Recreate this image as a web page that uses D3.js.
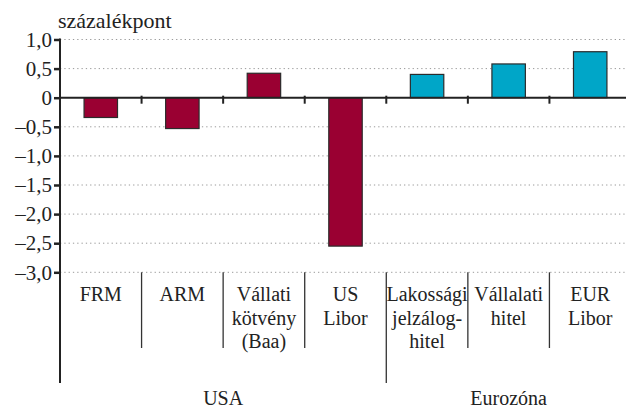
<!DOCTYPE html>
<html>
<head>
    <meta charset="UTF-8">
    <script src="https://cdn.jsdelivr.net/npm/d3@7"></script>
    <style>
        svg text { font-family: "Liberation Serif", serif !important; }
    </style>
</head>
<body style="margin:0">
<div id="chart"></div>
<script>
// categories, their label lines and group index
const categories = ["FRM", "ARM", "Vállati kötvény (Baa)", "US Libor", "Lakossági jelzáloghitel", "Vállalati hitel", "EUR Libor"];
const labelLines = [["FRM"], ["ARM"], ["Vállati", "kötvény", "(Baa)"], ["US", "Libor"], ["Lakossági", "jelzálog-", "hitel"], ["Vállalati", "hitel"], ["EUR", "Libor"]];
const values = [-0.34, -0.53, 0.42, -2.55, 0.40, 0.58, 0.79];
const groupOf = [0, 0, 0, 0, 1, 1, 1];
const groupNames = ["USA", "Eurozóna"];
const groupColors = ["#9a0032", "#00a6c8"];
const yTicks = [1, 0.5, 0, -0.5, -1, -1.5, -2, -2.5, -3];

const width = 626, height = 408;
const left = 60, right = 631;   // last band runs a bit past the edge
const FONT = "serif";

const svg = d3.select("#chart").append("svg")
    .attr("width", width)
    .attr("height", height)
    .attr("font-family", FONT)
    .style("display", "block");

const x = d3.scaleBand()
    .domain(categories)
    .range([left, right])
    .padding(0);

const y = d3.scaleLinear()
    .domain([-3, 1])
    .range([272.3, 39.5]);

const y0 = y(0);
const axisBottom = y(-3);

// dotted grid lines
svg.append("g")
    .selectAll("line")
    .data(yTicks.filter(d => d !== 0))
    .enter()
    .append("line")
    .attr("x1", left)
    .attr("x2", width)
    .attr("y1", d => y(d))
    .attr("y2", d => y(d))
    .attr("stroke", "#9a9a9a")
    .attr("stroke-width", 1)
    .attr("stroke-dasharray", "1.3,3");

// bars
const barW = x.bandwidth() * 0.41;
svg.append("g")
    .selectAll("rect")
    .data(values)
    .enter()
    .append("rect")
    .attr("x", (d, i) => x(categories[i]) + (x.bandwidth() - barW) / 2)
    .attr("y", d => y(Math.max(0, d)))
    .attr("width", barW)
    .attr("height", d => Math.abs(y(d) - y0))
    .attr("fill", (d, i) => groupColors[groupOf[i]])
    .attr("stroke", "#2b2b2b")
    .attr("stroke-width", 1.2);

// y axis
const yAxis = d3.axisLeft(y)
    .tickValues(yTicks)
    .tickSize(6)
    .tickPadding(2)
    .tickFormat(d => d === 0 ? "0" : d3.format(".1f")(d).replace(".", ",").replace("-", "–").replace("−", "–"));

const yg = svg.append("g")
    .attr("transform", `translate(${left},0)`)
    .call(yAxis)
    .attr("font-family", FONT)
    .attr("font-size", 21);
yg.select(".domain").remove();
yg.selectAll(".tick line").attr("stroke", "#222").attr("stroke-width", 2.5);
yg.selectAll(".tick text")
    .attr("fill", "#222")
    .attr("font-family", FONT)
    .attr("font-size", 21);

// vertical axis line, running down to the group row
svg.append("line")
    .attr("x1", left).attr("x2", left)
    .attr("y1", y(1) - 1).attr("y2", 383)
    .attr("stroke", "#222")
    .attr("stroke-width", 2);

// zero line
svg.append("line")
    .attr("x1", left).attr("x2", width)
    .attr("y1", y0).attr("y2", y0)
    .attr("stroke", "#222")
    .attr("stroke-width", 2);

// small ticks on the zero line and category separators
categories.forEach((c, i) => {
    if (i === 0) return;
    const bx = x(c);
    svg.append("line")
        .attr("x1", bx).attr("x2", bx)
        .attr("y1", y0 - 2).attr("y2", y0 + 6)
        .attr("stroke", "#222")
        .attr("stroke-width", 2);
    const groupStart = groupOf[i] !== groupOf[i - 1];
    svg.append("line")
        .attr("x1", bx).attr("x2", bx)
        .attr("y1", axisBottom)
        .attr("y2", groupStart ? 383 : 348)
        .attr("stroke", "#333")
        .attr("stroke-width", 1.3);
});

// category labels
labelLines.forEach((lines, i) => {
    const cx = x(categories[i]) + x.bandwidth() / 2;
    lines.forEach((line, j) => {
        svg.append("text")
            .attr("x", cx)
            .attr("y", 301 + j * 23.5)
            .attr("text-anchor", "middle")
            .attr("fill", "#222")
            .attr("font-family", FONT)
            .attr("font-size", 20)
            .text(line);
    });
});

// group labels
groupNames.forEach((g, gi) => {
    const idx = groupOf.map((v, i) => v === gi ? i : -1).filter(i => i >= 0);
    const x1 = x(categories[idx[0]]);
    const x2 = x(categories[idx[idx.length - 1]]) + x.bandwidth();
    svg.append("text")
        .attr("x", (x1 + x2) / 2)
        .attr("y", 405)
        .attr("text-anchor", "middle")
        .attr("fill", "#222")
        .attr("font-family", FONT)
        .attr("font-size", 20)
        .text(g);
});

// unit label
svg.append("text")
    .attr("x", 58)
    .attr("y", 28)
    .attr("fill", "#222")
    .attr("font-family", FONT)
    .attr("font-size", 22)
    .text("százalékpont");
</script>
</body>
</html>
